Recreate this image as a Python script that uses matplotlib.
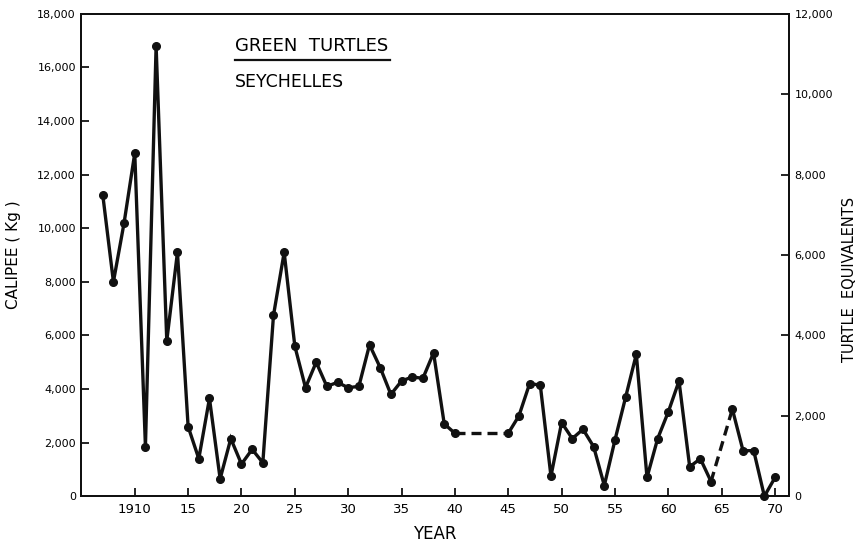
import numpy as np
import matplotlib.pyplot as plt

# Calipee exports, Seychelles (kg). No figures for 1941-44 and 1965.
years_a = list(range(1907, 1941))
calipee_a = [11250, 8000, 10200, 12800, 1850, 16800, 5800, 9100, 2600, 1400,
             3650, 650, 2150, 1200, 1750, 1250, 6750, 9100, 5600, 4050,
             5000, 4100, 4250, 4050, 4100, 5650, 4800, 3800, 4300, 4450,
             4400, 5350, 2700, 2350]
years_b = list(range(1945, 1965))
calipee_b = [2350, 3000, 4200, 4150, 750, 2750, 2150, 2500, 1850, 400,
             2100, 3700, 5300, 700, 2150, 3150, 4300, 1100, 1400, 550]
years_c = list(range(1966, 1971))
calipee_c = [3250, 1700, 1700, 0, 700]

left_ticks = list(range(0, 18001, 2000))
right_ticks = list(range(0, 12001, 2000))
year_ticks = list(range(1910, 1971, 5))
year_labels = ["1910"] + [str(y % 100) for y in year_ticks[1:]]

fig = plt.figure(figsize=(8.66, 5.52), dpi=100)
ax = fig.add_axes([0.094, 0.101, 0.817, 0.874])

runs = [(years_a, calipee_a), (years_b, calipee_b), (years_c, calipee_c)]
for xs, ys in runs:
    ax.plot(xs, ys, color="#111111", lw=2.4, marker="o", ms=5.5,
            solid_joinstyle="miter", clip_on=False, zorder=3)

# dashed links across the missing years
for (xa, ya), (xb, yb) in zip(runs[:-1], runs[1:]):
    ax.plot([xa[-1], xb[0]], [ya[-1], yb[0]], color="#111111", lw=2.4,
            dashes=(3, 1.8), zorder=2)

ax.set_xlim(1905, 1971.3)
ax.set_ylim(0, 18000)
ax.set_xticks(year_ticks)
ax.set_xticklabels(year_labels, fontsize=9.5)
ax.set_yticks(left_ticks)
ax.set_yticklabels([f"{v:,}" for v in left_ticks], fontsize=8)
ax.tick_params(direction="in", length=6, width=1.2, pad=4)
ax.tick_params(axis="x", pad=5)

ax2 = ax.twinx()
ax2.set_ylim(0, 12000)
ax2.set_yticks(right_ticks)
ax2.set_yticklabels([f"{v:,}" for v in right_ticks], fontsize=8)
ax2.tick_params(direction="in", length=6, width=1.2, pad=4)

for a in (ax, ax2):
    for s in a.spines.values():
        s.set_linewidth(1.4)
        s.set_color("#111111")

ax.set_xlabel("YEAR", fontsize=12, labelpad=6)
ax.set_ylabel("CALIPEE ( Kg )", fontsize=11)
ax.yaxis.set_label_coords(-0.086, 0.5)
ax2.set_ylabel("TURTLE  EQUIVALENTS", fontsize=10.5)
ax2.yaxis.set_label_coords(1.075, 0.45)

ax.text(0.2175, 0.933, "GREEN  TURTLES", transform=ax.transAxes,
        fontsize=13, va="center", ha="left")
ax.plot([0.2175, 0.4364], [0.905, 0.905], transform=ax.transAxes,
        color="#111111", lw=1.6, clip_on=False)
ax.text(0.2175, 0.859, "SEYCHELLES", transform=ax.transAxes,
        fontsize=12.5, va="center", ha="left")

fig.savefig("out.png", dpi=100)
